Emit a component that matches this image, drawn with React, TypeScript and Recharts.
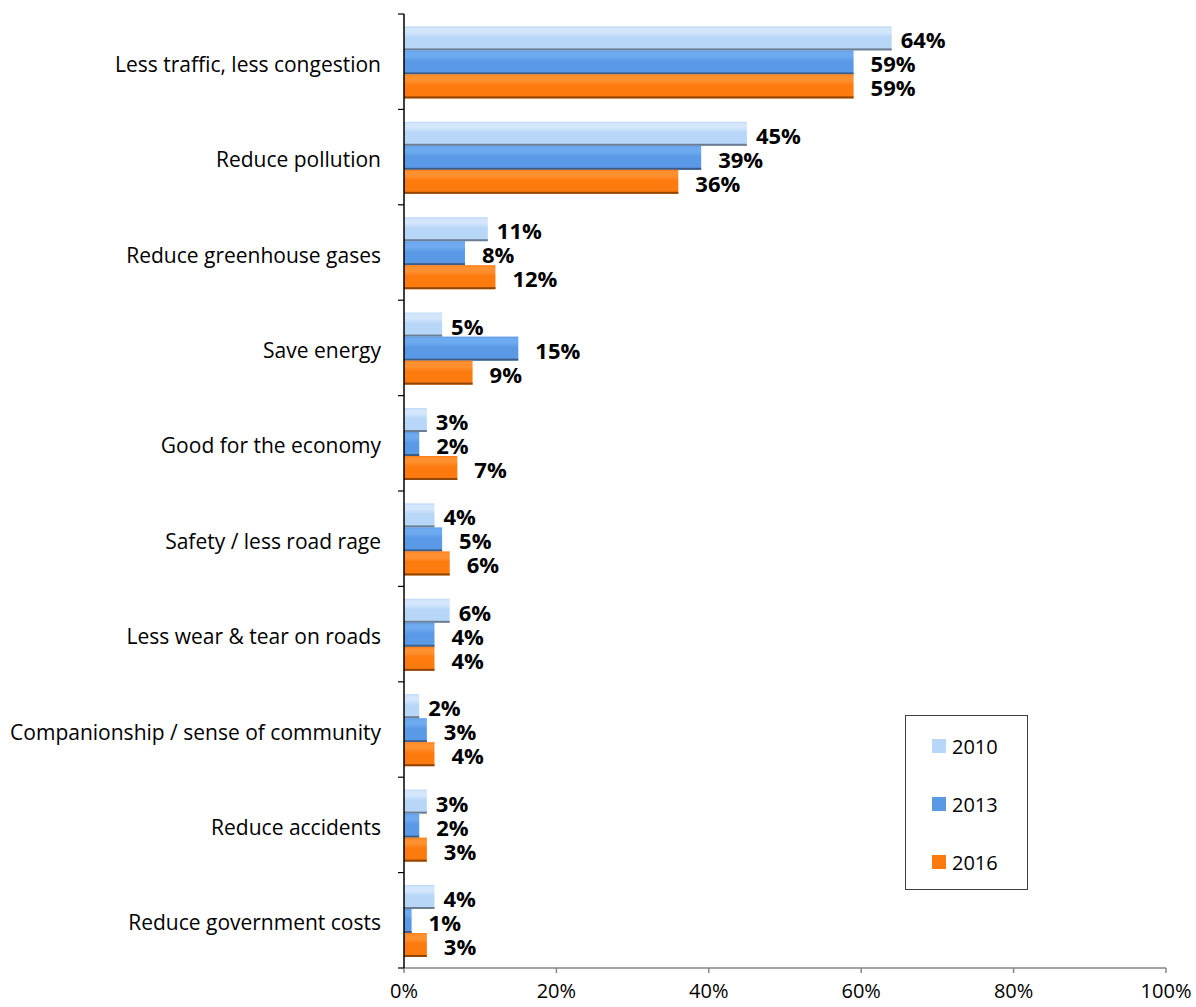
import React from "react";
import { BarChart, Bar, XAxis, YAxis, LabelList } from "recharts";

const categories = [
  "Less traffic, less congestion",
  "Reduce pollution",
  "Reduce greenhouse gases",
  "Save energy",
  "Good for the economy",
  "Safety / less road rage",
  "Less wear & tear on roads",
  "Companionship / sense of community",
  "Reduce accidents",
  "Reduce government costs",
];
const values2010 = [64, 45, 11, 5, 3, 4, 6, 2, 3, 4];
const values2013 = [59, 39, 8, 15, 2, 5, 4, 3, 2, 1];
const values2016 = [59, 36, 12, 9, 7, 6, 4, 4, 3, 3];
const xTicks = [0, 20, 40, 60, 80, 100];

const data = categories.map((c, i) => ({
  name: c,
  y2010: values2010[i],
  y2013: values2013[i],
  y2016: values2016[i],
}));

const FONT = "'Open Sans', sans-serif";
const W = 1196;
const H = 1007;
const M = { top: 14, right: 30, bottom: 0, left: 0 };
const Y_W = 404;
const X_H = 39;
const PLOT_H = H - M.top - M.bottom - X_H;
const BAND = PLOT_H / categories.length;

const seriesStyle = {
  y2010: { top: "#d3e6fc", mid: "#b8d6f8", edge: "#6c7d92", off: 9 },
  y2013: { top: "#6eaaf0", mid: "#5a99e6", edge: "#3c5c86", off: 17 },
  y2016: { top: "#ff9030", mid: "#fd7a0e", edge: "#8f4606", off: 17 },
};

const makeShape = (key: keyof typeof seriesStyle) => (props: any) => {
  const { x, y, width, height } = props;
  if (!width || width <= 0) return <g />;
  const s = seriesStyle[key];
  return (
    <g>
      <rect x={x} y={y} width={width} height={height} fill={`url(#grad-${key})`} />
      <rect x={x} y={y + height - 2} width={width} height={2} fill={s.edge} />
    </g>
  );
};

const makeLabel = (key: keyof typeof seriesStyle) => (props: any) => {
  const { x, y, width, height, value } = props;
  return (
    <text
      x={x + width + seriesStyle[key].off}
      y={y + height / 2 + 1}
      dominantBaseline="central"
      fontFamily={FONT}
      fontWeight="bold"
      fontSize={22}
      fill="#000"
    >
      {value}%
    </text>
  );
};

const CategoryTick = (props: any) => {
  const { x, y, payload, index } = props;
  return (
    <g>
      <text
        x={x - 23}
        y={y + 2}
        textAnchor="end"
        dominantBaseline="central"
        fontFamily={FONT}
        fontSize={21}
        fill="#000"
      >
        {payload.value}
      </text>
      <line x1={x - 6} x2={x} y1={y - BAND / 2} y2={y - BAND / 2} stroke="#000" strokeWidth={1.2} />
      {index === categories.length - 1 && (
        <line x1={x - 6} x2={x} y1={y + BAND / 2} y2={y + BAND / 2} stroke="#000" strokeWidth={1.2} />
      )}
    </g>
  );
};

const legendItems = [
  { label: "2010", color: "#b8d6f8" },
  { label: "2013", color: "#5a99e6" },
  { label: "2016", color: "#fd7a0e" },
];

const LegendBox = () => (
  <div
    style={{
      position: "absolute",
      left: 905,
      top: 715,
      width: 123,
      height: 175,
      border: "1.5px solid #404040",
      background: "#fff",
      boxSizing: "border-box",
      paddingTop: 1,
      fontFamily: FONT,
    }}
  >
    {legendItems.map((it) => (
      <div key={it.label} style={{ display: "flex", alignItems: "center", height: 58, paddingLeft: 26 }}>
        <div style={{ width: 14, height: 14, background: it.color, marginRight: 6 }} />
        <span style={{ fontSize: 20, color: "#000" }}>{it.label}</span>
      </div>
    ))}
  </div>
);

export default function App() {
  return (
    <div style={{ position: "absolute", left: 0, top: 0, width: W, height: H, background: "#fff" }}>
      <BarChart
        width={W}
        height={H}
        data={data}
        layout="vertical"
        margin={M}
        barCategoryGap="13%"
        barGap={0}
      >
        <defs>
          {(Object.keys(seriesStyle) as (keyof typeof seriesStyle)[]).map((k) => (
            <linearGradient key={k} id={`grad-${k}`} x1="0" y1="0" x2="0" y2="1">
              <stop offset="0%" stopColor={seriesStyle[k].mid} />
              <stop offset="8%" stopColor={seriesStyle[k].top} />
              <stop offset="25%" stopColor={seriesStyle[k].top} />
              <stop offset="45%" stopColor={seriesStyle[k].mid} />
              <stop offset="100%" stopColor={seriesStyle[k].mid} />
            </linearGradient>
          ))}
        </defs>
        <XAxis
          type="number"
          domain={[0, 100]}
          ticks={xTicks}
          tickFormatter={(v) => `${v}%`}
          height={X_H}
          axisLine={{ stroke: "#868686", strokeWidth: 1.5 }}
          tickLine={{ stroke: "#868686", strokeWidth: 1.5 }}
          tickSize={5}
          tickMargin={11}
          tick={{ fontFamily: FONT, fontSize: 20, fill: "#000" }}
        />
        <YAxis
          type="category"
          dataKey="name"
          width={Y_W}
          axisLine={{ stroke: "#000", strokeWidth: 1.5 }}
          tickLine={false}
          tickSize={0}
          tickMargin={0}
          tick={<CategoryTick />}
          interval={0}
        />
        <Bar dataKey="y2010" name="2010" fill="#b8d6f8" shape={makeShape("y2010")} isAnimationActive={false}>
          <LabelList dataKey="y2010" content={makeLabel("y2010")} />
        </Bar>
        <Bar dataKey="y2013" name="2013" fill="#5a99e6" shape={makeShape("y2013")} isAnimationActive={false}>
          <LabelList dataKey="y2013" content={makeLabel("y2013")} />
        </Bar>
        <Bar dataKey="y2016" name="2016" fill="#fd7a0e" shape={makeShape("y2016")} isAnimationActive={false}>
          <LabelList dataKey="y2016" content={makeLabel("y2016")} />
        </Bar>
      </BarChart>
      <LegendBox />
    </div>
  );
}
